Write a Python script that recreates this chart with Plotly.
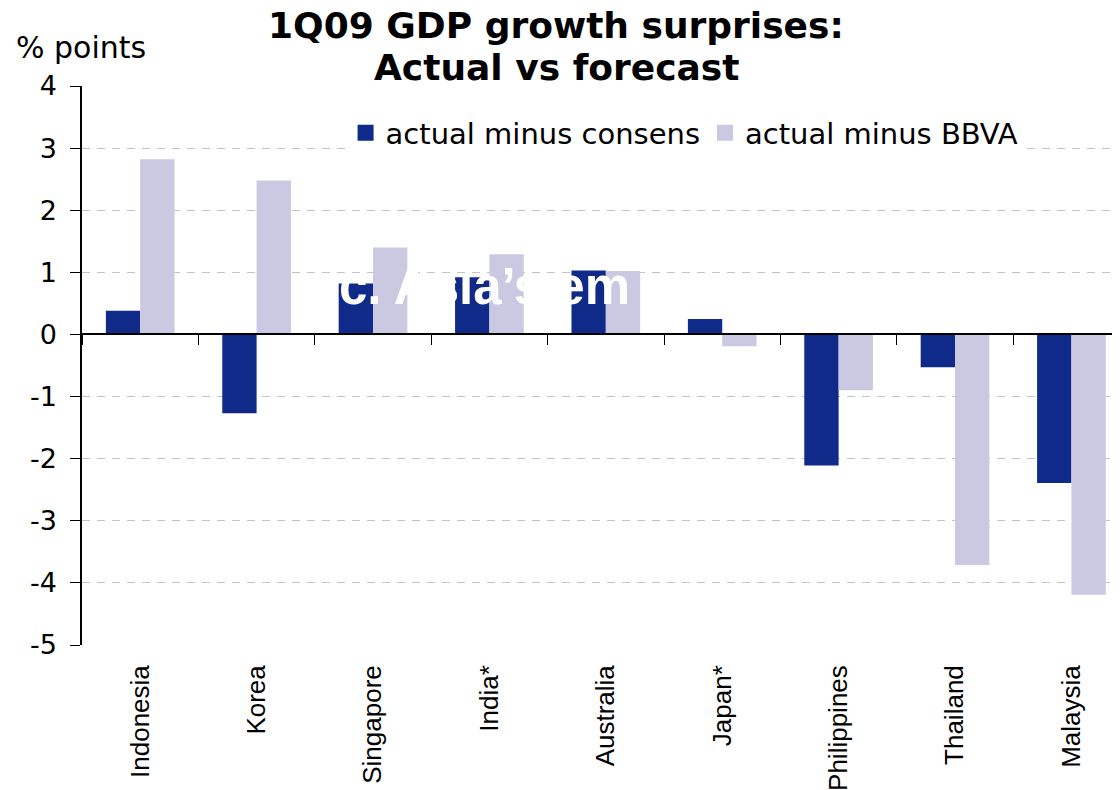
import plotly.graph_objects as go

countries = ["Indonesia", "Korea", "Singapore", "India*", "Australia",
             "Japan*", "Philippines", "Thailand", "Malaysia"]
vs_consensus = [0.38, -1.27, 0.82, 0.92, 1.03, 0.25, -2.11, -0.53, -2.39]
vs_bbva = [2.82, 2.48, 1.40, 1.29, 1.02, -0.19, -0.90, -3.71, -4.19]
y_ticks = [4, 3, 2, 1, 0, -1, -2, -3, -4, -5]
y_labels = ["4", "3", "2", "1", "0", "-1", "-2", "-3", "-4", "-5"]
title_lines = ["1Q09 GDP growth surprises:", "Actual vs forecast"]

DARK = "#0f2a88"
LIGHT = "#cbc9e2"
VERD = "DejaVu Sans"
ARIAL = "Liberation Sans"

fig = go.Figure()

# bars (legend handled by dummy square markers below)
fig.add_trace(go.Bar(x=countries, y=vs_consensus, marker_color=DARK,
                     marker_line_width=0, showlegend=False,
                     name="actual minus consens"))
fig.add_trace(go.Bar(x=countries, y=vs_bbva, marker_color=LIGHT,
                     marker_line_width=0, showlegend=False,
                     name="actual minus BBVA"))

# legend entries with bigger square swatches
for nm, col in [("actual minus consens", DARK), ("actual minus BBVA", LIGHT)]:
    fig.add_trace(go.Scatter(x=[None], y=[None], mode="markers", name=nm,
                             marker=dict(symbol="square", size=18, color=col)))

# invisible trace so the zero-line axis gets its categories
fig.add_trace(go.Scatter(x=countries, y=[0] * len(countries), mode="none",
                         xaxis="x2", showlegend=False, hoverinfo="skip"))

# the page body adds an 8px offset, margins are set to compensate
x_range = [-0.5, 8.486]
PW = 1046  # plot width in px
PH = 559   # plot height in px

annots = []
for txt, cy in zip(title_lines, [25, 67]):
    annots.append(dict(text="<b>" + txt + "</b>", xref="paper", yref="paper",
                       x=(556 - 82) / PW, y=(645 - cy) / PH,
                       xanchor="center", yanchor="middle", showarrow=False,
                       font=dict(family=VERD, size=36, color="black")))
annots.append(dict(text="% points", xref="paper", yref="paper",
                   x=(14 - 82) / PW, y=1.068, xanchor="left", yanchor="middle",
                   showarrow=False,
                   font=dict(family=VERD, size=30, color="black")))
annots.append(dict(text="<b>c. Asia’s em</b>", xref="paper", yref="paper",
                   x=(337 - 82) / PW, y=0.642, xanchor="left",
                   yanchor="middle", showarrow=False,
                   font=dict(family=ARIAL, size=51, color="white")))

fig.update_layout(
    width=1120, height=790,
    margin=dict(l=74, r=0, t=78, b=153, autoexpand=False),
    plot_bgcolor="white", paper_bgcolor="white",
    barmode="group", bargap=0.41, bargroupgap=0,
    legend=dict(orientation="h", x=0.252, xanchor="left", y=0.916,
                yanchor="middle", bgcolor="white",
                font=dict(family=VERD, size=29, color="black"),
                itemsizing="trace"),
    xaxis=dict(type="category", categoryorder="array", categoryarray=countries,
               range=x_range, showline=False, ticks="", showgrid=False,
               tickangle=-90, ticklabelstandoff=14, automargin=False,
               tickfont=dict(family=ARIAL, size=26, color="black")),
    xaxis2=dict(type="category", categoryorder="array", categoryarray=countries,
                range=x_range, overlaying="x", anchor="free", position=5 / 9,
                showline=True, linecolor="black", linewidth=1.5,
                ticks="outside", tickson="boundaries", ticklen=10,
                tickcolor="black", tickwidth=1, showticklabels=False,
                showgrid=False, automargin=False),
    yaxis=dict(range=[-5, 4], tickvals=y_ticks, ticktext=y_labels,
               showline=True, linecolor="black", linewidth=1.5,
               ticks="outside", ticklen=10, tickcolor="black",
               showgrid=True, gridcolor="#c4c4c4", griddash="8px,7px",
               gridwidth=1, zeroline=False, ticklabelstandoff=8,
               automargin=False,
               tickfont=dict(family=VERD, size=27, color="black")),
    annotations=annots,
)

fig.write_html("out.html")
